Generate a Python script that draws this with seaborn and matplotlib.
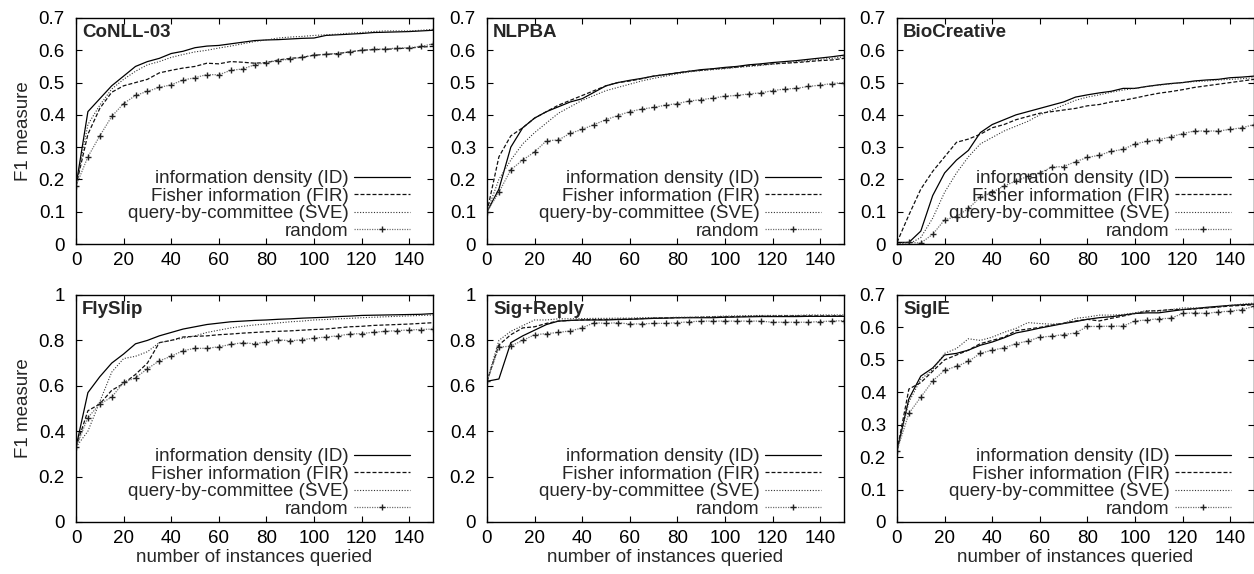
import numpy as np
import pandas as pd
import matplotlib
matplotlib.use("Agg")
import matplotlib.pyplot as plt
from matplotlib.ticker import FuncFormatter, MultipleLocator
from matplotlib.lines import Line2D
import seaborn as sns

x_queried = list(range(0, 151, 5))

datasets = ["CoNLL-03", "NLPBA", "BioCreative", "FlySlip", "Sig+Reply", "SigIE"]
method_labels = ["information density (ID)", "Fisher information (FIR)",
                 "query-by-committee (SVE)", "random"]

conll_id = [0.18, 0.41, 0.45, 0.49, 0.52, 0.55, 0.565, 0.575, 0.59, 0.597, 0.608, 0.613, 0.615, 0.62, 0.625, 0.63,
            0.632, 0.633, 0.635, 0.637, 0.638, 0.646, 0.648, 0.65, 0.652, 0.655, 0.656, 0.657, 0.658, 0.66, 0.662]
conll_fir = [0.18, 0.34, 0.42, 0.47, 0.49, 0.5, 0.51, 0.53, 0.538, 0.545, 0.55, 0.56, 0.558, 0.565, 0.563, 0.56,
             0.562, 0.57, 0.575, 0.578, 0.585, 0.587, 0.59, 0.595, 0.6, 0.602, 0.603, 0.605, 0.607, 0.61, 0.612]
conll_sve = [0.18, 0.37, 0.43, 0.48, 0.51, 0.535, 0.555, 0.565, 0.578, 0.587, 0.595, 0.6, 0.607, 0.613, 0.62, 0.627,
             0.632, 0.638, 0.641, 0.643, 0.646, 0.648, 0.65, 0.653, 0.655, 0.658, 0.66, 0.66, 0.66, 0.662, 0.665]
conll_rand = [0.18, 0.27, 0.335, 0.395, 0.435, 0.46, 0.473, 0.485, 0.493, 0.508, 0.515, 0.525, 0.524, 0.538, 0.542,
              0.555, 0.562, 0.568, 0.573, 0.578, 0.585, 0.588, 0.59, 0.595, 0.6, 0.603, 0.604, 0.607, 0.608, 0.612, 0.62]

nlpba_id = [0.1, 0.17, 0.3, 0.36, 0.39, 0.41, 0.425, 0.44, 0.45, 0.47, 0.49, 0.5, 0.507, 0.513, 0.52, 0.525, 0.53,
            0.535, 0.54, 0.543, 0.547, 0.55, 0.555, 0.558, 0.562, 0.565, 0.568, 0.572, 0.576, 0.58, 0.585]
nlpba_fir = [0.1, 0.27, 0.335, 0.36, 0.39, 0.41, 0.43, 0.445, 0.46, 0.475, 0.49, 0.5, 0.505, 0.512, 0.52, 0.525,
             0.53, 0.535, 0.538, 0.542, 0.545, 0.548, 0.552, 0.555, 0.558, 0.56, 0.562, 0.565, 0.568, 0.57, 0.575]
nlpba_sve = [0.1, 0.2, 0.26, 0.31, 0.345, 0.375, 0.405, 0.425, 0.445, 0.46, 0.475, 0.485, 0.495, 0.505, 0.513, 0.52,
             0.527, 0.533, 0.537, 0.54, 0.543, 0.547, 0.55, 0.553, 0.557, 0.56, 0.565, 0.568, 0.572, 0.575, 0.58]
nlpba_rand = [0.1, 0.16, 0.23, 0.26, 0.285, 0.32, 0.322, 0.343, 0.355, 0.37, 0.385, 0.398, 0.41, 0.418, 0.423, 0.43,
              0.435, 0.443, 0.447, 0.452, 0.458, 0.46, 0.465, 0.468, 0.475, 0.48, 0.482, 0.488, 0.492, 0.497, 0.5]

bio_id = [0.005, 0.005, 0.04, 0.15, 0.22, 0.26, 0.29, 0.345, 0.37, 0.385, 0.4, 0.41, 0.42, 0.43, 0.44, 0.455, 0.462,
          0.468, 0.473, 0.482, 0.482, 0.488, 0.493, 0.497, 0.5, 0.505, 0.508, 0.51, 0.515, 0.517, 0.52]
bio_fir = [0.005, 0.09, 0.17, 0.225, 0.27, 0.315, 0.325, 0.34, 0.36, 0.37, 0.385, 0.395, 0.405, 0.41, 0.415, 0.42,
           0.428, 0.432, 0.44, 0.445, 0.452, 0.46, 0.467, 0.472, 0.478, 0.485, 0.49, 0.495, 0.5, 0.505, 0.51]
bio_sve = [0.0, 0.0, 0.02, 0.08, 0.16, 0.22, 0.27, 0.31, 0.33, 0.35, 0.365, 0.38, 0.4, 0.415, 0.43, 0.445, 0.455,
           0.462, 0.47, 0.477, 0.482, 0.488, 0.492, 0.496, 0.5, 0.503, 0.505, 0.508, 0.51, 0.512, 0.515]
bio_rand = [0.0, 0.005, 0.003, 0.03, 0.075, 0.085, 0.11, 0.145, 0.16, 0.18, 0.195, 0.21, 0.22, 0.238, 0.24, 0.255,
            0.268, 0.275, 0.287, 0.293, 0.31, 0.318, 0.323, 0.332, 0.342, 0.35, 0.35, 0.35, 0.355, 0.36, 0.37]

fly_id = [0.33, 0.57, 0.64, 0.70, 0.74, 0.785, 0.80, 0.82, 0.835, 0.85, 0.86, 0.87, 0.876, 0.882, 0.885, 0.888, 0.89,
          0.893, 0.895, 0.898, 0.9, 0.902, 0.905, 0.907, 0.91, 0.911, 0.912, 0.913, 0.914, 0.915, 0.918]
fly_fir = [0.33, 0.49, 0.52, 0.58, 0.61, 0.65, 0.70, 0.79, 0.80, 0.815, 0.818, 0.82, 0.825, 0.828, 0.832, 0.835,
           0.838, 0.84, 0.842, 0.845, 0.848, 0.85, 0.855, 0.86, 0.862, 0.866, 0.868, 0.87, 0.872, 0.875, 0.878]
fly_sve = [0.33, 0.40, 0.53, 0.66, 0.72, 0.73, 0.75, 0.79, 0.80, 0.81, 0.82, 0.835, 0.845, 0.855, 0.862, 0.868, 0.872,
           0.877, 0.882, 0.885, 0.89, 0.892, 0.895, 0.897, 0.9, 0.902, 0.904, 0.906, 0.908, 0.91, 0.912]
fly_rand = [0.33, 0.46, 0.52, 0.55, 0.615, 0.635, 0.675, 0.71, 0.73, 0.755, 0.765, 0.765, 0.772, 0.782, 0.79, 0.785,
            0.793, 0.803, 0.798, 0.803, 0.81, 0.815, 0.82, 0.828, 0.83, 0.836, 0.84, 0.843, 0.846, 0.848, 0.85]

sig_id = [0.62, 0.63, 0.79, 0.82, 0.845, 0.87, 0.885, 0.888, 0.89, 0.89, 0.89, 0.892, 0.893, 0.895, 0.897, 0.898, 0.9,
          0.9, 0.9, 0.9, 0.902, 0.903, 0.904, 0.905, 0.905, 0.905, 0.905, 0.906, 0.906, 0.906, 0.906]
sig_fir = [0.62, 0.78, 0.825, 0.855, 0.86, 0.875, 0.885, 0.888, 0.89, 0.892, 0.892, 0.893, 0.894, 0.896, 0.898, 0.899,
           0.9, 0.901, 0.902, 0.903, 0.904, 0.905, 0.906, 0.907, 0.907, 0.908, 0.908, 0.908, 0.908, 0.908, 0.908]
sig_sve = [0.62, 0.80, 0.84, 0.865, 0.89, 0.89, 0.895, 0.895, 0.896, 0.897, 0.897, 0.898, 0.898, 0.9, 0.9, 0.9, 0.902,
           0.902, 0.903, 0.905, 0.907, 0.908, 0.909, 0.91, 0.91, 0.91, 0.91, 0.912, 0.912, 0.912, 0.912]
sig_rand = [0.62, 0.77, 0.775, 0.80, 0.825, 0.83, 0.835, 0.842, 0.855, 0.878, 0.875, 0.878, 0.872, 0.873, 0.875, 0.875,
            0.878, 0.882, 0.885, 0.885, 0.885, 0.885, 0.885, 0.885, 0.88, 0.88, 0.88, 0.88, 0.883, 0.885, 0.887]

sigie_id = [0.22, 0.38, 0.45, 0.475, 0.515, 0.52, 0.53, 0.545, 0.555, 0.568, 0.583, 0.59, 0.598, 0.605, 0.612, 0.618,
            0.625, 0.63, 0.633, 0.638, 0.643, 0.645, 0.645, 0.65, 0.655, 0.658, 0.662, 0.665, 0.668, 0.67, 0.672]
sigie_fir = [0.22, 0.41, 0.43, 0.465, 0.5, 0.515, 0.53, 0.55, 0.56, 0.57, 0.59, 0.595, 0.6, 0.607, 0.613, 0.62, 0.625,
             0.62, 0.628, 0.635, 0.643, 0.65, 0.652, 0.655, 0.655, 0.657, 0.66, 0.663, 0.666, 0.668, 0.67]
sigie_sve = [0.22, 0.37, 0.44, 0.47, 0.52, 0.535, 0.565, 0.56, 0.57, 0.585, 0.597, 0.615, 0.612, 0.61, 0.612, 0.628,
             0.632, 0.638, 0.638, 0.64, 0.645, 0.652, 0.65, 0.655, 0.66, 0.66, 0.66, 0.663, 0.668, 0.672, 0.675]
sigie_rand = [0.22, 0.335, 0.385, 0.435, 0.468, 0.48, 0.495, 0.52, 0.53, 0.537, 0.55, 0.558, 0.57, 0.573, 0.578, 0.583,
              0.603, 0.603, 0.604, 0.604, 0.62, 0.623, 0.627, 0.628, 0.643, 0.645, 0.643, 0.648, 0.65, 0.655, 0.665]

series = {
    "CoNLL-03": [conll_id, conll_fir, conll_sve, conll_rand],
    "NLPBA": [nlpba_id, nlpba_fir, nlpba_sve, nlpba_rand],
    "BioCreative": [bio_id, bio_fir, bio_sve, bio_rand],
    "FlySlip": [fly_id, fly_fir, fly_sve, fly_rand],
    "Sig+Reply": [sig_id, sig_fir, sig_sve, sig_rand],
    "SigIE": [sigie_id, sigie_fir, sigie_sve, sigie_rand],
}
ymax = {"CoNLL-03": 0.7, "NLPBA": 0.7, "BioCreative": 0.7, "FlySlip": 1.0, "Sig+Reply": 1.0, "SigIE": 0.7}

sns.set_style("ticks")
plt.rcParams["font.family"] = ["Liberation Sans", "DejaVu Sans"]
FS = 13.5
plt.rcParams["font.size"] = FS

styles = [
    dict(color="#000000", lw=0.9, dashes=None, marker=None),
    dict(color="#111111", lw=0.9, dashes=(3.2, 1.6), marker=None),
    dict(color="#333333", lw=0.8, dashes=(1.0, 1.5), marker=None),
    dict(color="#707070", lw=0.9, dashes=(1.0, 1.0), marker="+"),
]

fig = plt.figure(figsize=(12.54, 5.74), dpi=100)
W, H = 1254.0, 574.0
lefts = [76, 487, 897]
axw = 357
rows = [(18, 244), (295, 522)]

for i, name in enumerate(datasets):
    r, c = divmod(i, 3)
    top, bot = rows[r]
    ax = fig.add_axes([lefts[c] / W, 1 - bot / H, axw / W, (bot - top) / H])
    handles = []
    for j, vals in enumerate(series[name]):
        st = styles[j]
        df = pd.DataFrame({"x": x_queried, "y": vals})
        kw = dict(color=st["color"], linewidth=st["lw"])
        if st["marker"]:
            kw.update(marker="+", markersize=5, markeredgewidth=1.0,
                      markeredgecolor="#222222")
        sns.lineplot(data=df, x="x", y="y", ax=ax, **kw)
        ln = ax.lines[-1]
        if st["dashes"]:
            ln.set_dashes(st["dashes"])
        h = Line2D([0, 1, 2], [0, 0, 0], color=st["color"], linewidth=st["lw"])
        if st["dashes"]:
            h.set_dashes(st["dashes"])
        if st["marker"]:
            h.set_marker("+"); h.set_markersize(5); h.set_markeredgewidth(1.0)
            h.set_markeredgecolor("#222222"); h.set_markevery([1])
        handles.append(h)
    ax.set_xlim(0, 150)
    ax.set_ylim(0, ymax[name])
    ax.xaxis.set_major_locator(MultipleLocator(20))
    ax.yaxis.set_major_locator(MultipleLocator(0.1 if ymax[name] < 1 else 0.2))
    ax.yaxis.set_major_formatter(FuncFormatter(lambda v, p: f"{v:.1f}".rstrip("0").rstrip(".") if v else "0"))
    ax.tick_params(direction="in", top=True, right=True, length=4, width=0.8,
                   labelsize=FS, colors="black")
    ax.tick_params(axis="x", pad=6)
    ax.tick_params(axis="y", pad=8)
    for s in ax.spines.values():
        s.set_visible(True); s.set_linewidth(1.0); s.set_color("black")
    ax.set_xlabel("number of instances queried" if r == 1 else "", fontsize=FS, labelpad=1)
    ax.set_ylabel("F1 measure" if c == 0 else "", fontsize=FS, labelpad=5)
    ax.text(0.017, 0.934, name, transform=ax.transAxes, fontsize=FS,
            fontweight="bold", ha="left", va="center")
    ax.legend(handles, method_labels, loc="lower right", bbox_to_anchor=(0.936, 0.018),
              frameon=False, markerfirst=False, handlelength=3.0, handletextpad=0.27,
              labelspacing=0.02, borderpad=0, borderaxespad=0, fontsize=FS)

fig.savefig("out.png", dpi=100)
